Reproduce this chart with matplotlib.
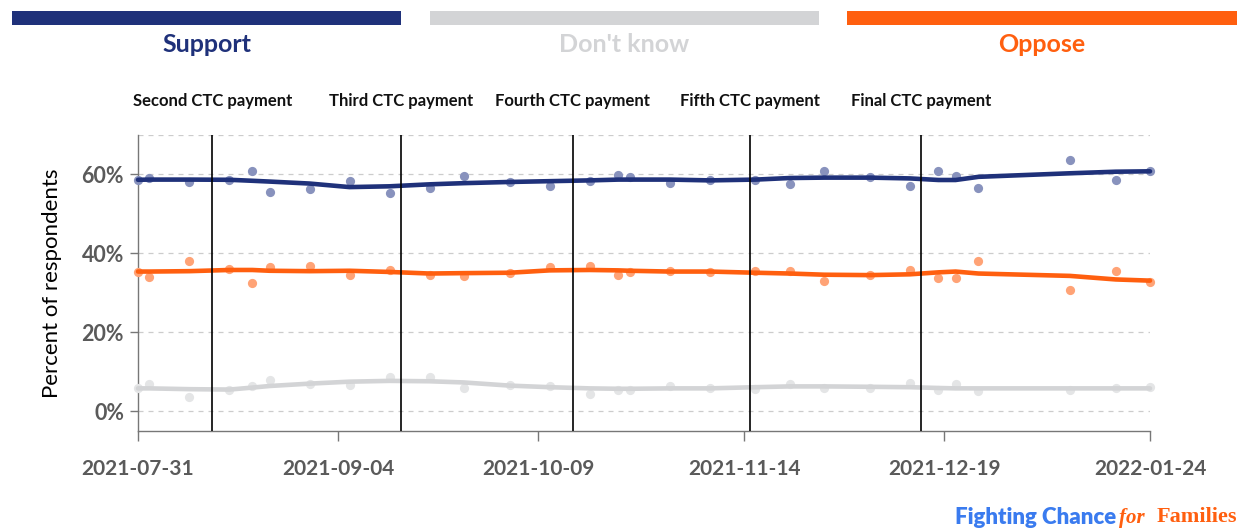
import matplotlib
matplotlib.use("Agg")
import matplotlib.pyplot as plt
import matplotlib.dates as mdates
import numpy as np
import pandas as pd

# ---------------- data ----------------
dates = ["2021-07-31", "2021-08-02", "2021-08-09", "2021-08-16", "2021-08-20", "2021-08-23",
         "2021-08-30", "2021-09-06", "2021-09-13", "2021-09-20", "2021-09-26", "2021-10-04",
         "2021-10-11", "2021-10-18", "2021-10-23", "2021-10-25", "2021-11-01", "2021-11-08",
         "2021-11-16", "2021-11-22", "2021-11-28", "2021-12-06", "2021-12-13", "2021-12-18",
         "2021-12-21", "2021-12-25", "2022-01-10", "2022-01-18", "2022-01-24"]

support = [58.5, 59.1, 58.2, 58.7, 61.0, 55.6, 56.2, 58.4, 55.4, 56.6, 59.5, 58.2, 57.1, 58.4,
           59.9, 59.3, 57.8, 58.7, 58.7, 57.5, 60.8, 59.3, 57.0, 60.8, 59.7, 56.5, 63.6, 58.5, 60.9]
oppose = [35.4, 34.1, 38.0, 36.0, 32.4, 36.5, 36.8, 34.6, 35.8, 34.6, 34.3, 35.0, 36.5, 36.9,
          34.6, 35.4, 35.6, 35.3, 35.5, 35.6, 33.0, 34.6, 35.9, 33.8, 33.7, 38.2, 30.7, 35.5, 32.7]
dont_know = [5.9, 6.9, 3.6, 5.3, 6.4, 7.9, 6.9, 6.6, 8.8, 8.6, 5.9, 6.6, 6.5, 4.5,
             5.4, 5.3, 6.3, 5.9, 5.6, 6.9, 5.9, 6.0, 7.2, 5.3, 6.9, 5.1, 5.5, 5.9, 6.1]

support_trend = [58.65, 58.7, 58.7, 58.65, 58.4, 58.2, 57.7, 56.8, 57.0, 57.5, 57.8, 58.1, 58.3, 58.5,
                 58.7, 58.7, 58.7, 58.5, 58.7, 59.1, 59.2, 59.2, 59.0, 58.6, 58.6, 59.4, 60.3, 60.7, 60.8]
oppose_trend = [35.4, 35.4, 35.5, 35.8, 35.8, 35.6, 35.5, 35.6, 35.3, 34.9, 35.0, 35.1, 35.7, 35.8,
                35.7, 35.6, 35.4, 35.4, 35.1, 34.9, 34.6, 34.5, 34.7, 35.2, 35.4, 34.9, 34.3, 33.4, 33.1]
dont_know_trend = [5.8, 5.8, 5.6, 5.5, 6.0, 6.4, 7.0, 7.5, 7.7, 7.6, 7.3, 6.5, 6.1, 5.8,
                   5.7, 5.7, 5.8, 5.8, 6.1, 6.3, 6.3, 6.2, 6.1, 5.9, 5.8, 5.8, 5.8, 5.8, 5.8]

payment_dates = ["2021-08-13", "2021-09-15", "2021-10-15", "2021-11-15", "2021-12-15"]
payment_labels = ["Second CTC payment", "Third CTC payment", "Fourth CTC payment",
                  "Fifth CTC payment", "Final CTC payment"]

xtick_dates = ["2021-07-31", "2021-09-04", "2021-10-09", "2021-11-14", "2021-12-19", "2022-01-24"]
ytick_values = [0, 20, 40, 60]

legend_labels = ["Support", "Don't know", "Oppose"]

# ---------------- style ----------------
NAVY = "#1f317a"
NAVY_PT = "#8892bd"
ORANGE = "#ff5f0f"
ORANGE_PT = "#ffa376"
GREY = "#d3d4d6"
GREY_PT = "#e4e5e6"
FONT = "Lato"

plt.rcParams["font.family"] = [FONT, "DejaVu Sans"]

W, H = 1237, 529
fig = plt.figure(figsize=(W / 100, H / 100), dpi=100)

L, R, B, T = 138 / W, 1150 / W, 1 - 431 / H, 1 - 135 / H
ax = fig.add_axes([L, B, R - L, T - B])

x = pd.to_datetime(dates)

for vals, trend, ln_c, pt_c in [(dont_know, dont_know_trend, GREY, GREY_PT),
                                (oppose, oppose_trend, ORANGE, ORANGE_PT),
                                (support, support_trend, NAVY, NAVY_PT)]:
    ax.scatter(x, vals, s=44, color=pt_c, zorder=3, clip_on=False, linewidths=0)
    ax.plot(x, trend, color=ln_c, lw=3.3, zorder=4, solid_capstyle="round", clip_on=False)

ax.set_xlim(pd.Timestamp(xtick_dates[0]), pd.Timestamp(xtick_dates[-1]))
ax.set_ylim(-5, 70)

for d in payment_dates:
    ax.axvline(pd.Timestamp(d), color="black", lw=1.2, zorder=5)

for yv in ytick_values + [70]:
    ax.axhline(yv, color="#cccccc", lw=0.9, ls=(0, (4, 4)), zorder=1)

ax.set_xticks(pd.to_datetime(xtick_dates))
ax.set_xticklabels(xtick_dates)
ax.set_yticks(ytick_values)
ax.set_yticklabels([f"{v}%" for v in ytick_values])

for s in ["top", "right"]:
    ax.spines[s].set_visible(False)
for s in ["left", "bottom"]:
    ax.spines[s].set_color("#777777")
    ax.spines[s].set_linewidth(1.0)

ax.tick_params(axis="x", colors="#777777", length=7, width=1.0, pad=13,
               labelsize=15, labelcolor="#5a5a5a")
ax.tick_params(axis="y", colors="#777777", length=6, width=1.0, pad=4,
               labelsize=15.5, labelcolor="#5a5a5a")
for lab in ax.get_xticklabels() + ax.get_yticklabels():
    lab.set_fontweight("bold")

ax.set_ylabel("Percent of respondents", fontsize=16, color="black", labelpad=14)

# payment annotations
for d, lab in zip(payment_dates, payment_labels):
    ax.annotate(lab, xy=(mdates.date2num(pd.Timestamp(d)), 1), xycoords=("data", "axes fraction"),
                xytext=(0, 24.5), textcoords="offset points", ha="center", va="center",
                fontsize=12, fontweight="bold", color="#111111", annotation_clip=False)

# legend bars at the top
bar_spans = [(12, 401), (430, 819), (847, 1237)]
bar_colors = [NAVY, GREY, ORANGE]
for (x0, x1), c, lab in zip(bar_spans, bar_colors, legend_labels):
    bax = fig.add_axes([x0 / W, 1 - 25 / H, (x1 - x0) / W, 14 / H])
    bax.set_facecolor(c)
    bax.set_xticks([])
    bax.set_yticks([])
    for s in bax.spines.values():
        s.set_visible(False)
    fig.text((x0 + x1) / 2 / W, 1 - 44 / H, lab, ha="center", va="center",
             fontsize=18, fontweight="bold", color=c)

# logo
fig.text(955 / W, 1 - 518 / H, "Fighting Chance", ha="left", va="center",
         fontsize=16, fontweight="heavy", color="#3a7bef")
fig.text(1119 / W, 1 - 518 / H, "for", ha="left", va="center",
         fontsize=15, fontstyle="italic", fontweight="bold", color=ORANGE,
         family=["Liberation Serif"])
fig.text(1237 / W, 1 - 517 / H, "Families", ha="right", va="center",
         fontsize=16, fontweight="bold", color=ORANGE, family=["Liberation Serif"])

fig.savefig("out.png", dpi=100)
